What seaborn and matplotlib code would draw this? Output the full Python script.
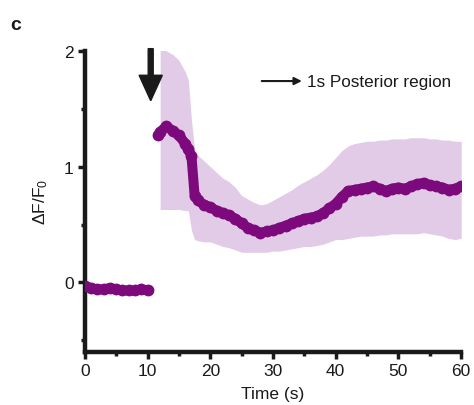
import matplotlib
matplotlib.use("Agg")
import matplotlib.pyplot as plt
import seaborn as sns
import numpy as np
import pandas as pd

# --- data ---
base_t = [0, 1, 2, 3, 4, 5, 6, 7, 8, 9, 10]
base_y = [-0.03, -0.05, -0.06, -0.06, -0.05, -0.06, -0.07, -0.07, -0.07, -0.06, -0.07]

resp_t = [11.7, 12, 13, 14, 15, 16, 16.5, 17, 17.5, 18, 19, 20, 21, 22, 23, 24, 25, 26, 27, 28,
          29, 30, 31, 32, 33, 34, 35, 36, 37, 38, 39, 40, 41, 42, 43, 44, 45, 46, 47, 48,
          49, 50, 51, 52, 53, 54, 55, 56, 57, 58, 59, 60]
resp_y = [1.27, 1.30, 1.35, 1.31, 1.27, 1.20, 1.15, 1.09, 0.75, 0.71, 0.67, 0.65, 0.62, 0.60, 0.58, 0.55, 0.51, 0.47, 0.45, 0.43,
          0.44, 0.45, 0.47, 0.49, 0.51, 0.53, 0.55, 0.56, 0.57, 0.60, 0.64, 0.68, 0.74, 0.79, 0.80, 0.81, 0.82, 0.83, 0.81, 0.79,
          0.81, 0.82, 0.81, 0.83, 0.85, 0.86, 0.84, 0.83, 0.82, 0.80, 0.81, 0.83]
resp_hi = [None, 2.02, 2.00, 1.97, 1.92, 1.82, 1.75, 1.40, 1.15, 1.10, 1.05, 1.00, 0.95, 0.90, 0.87, 0.82, 0.75, 0.72, 0.69, 0.67,
           0.68, 0.71, 0.74, 0.77, 0.80, 0.84, 0.87, 0.90, 0.93, 0.97, 1.02, 1.08, 1.14, 1.18, 1.20, 1.21, 1.22, 1.22, 1.23, 1.23,
           1.24, 1.24, 1.24, 1.25, 1.25, 1.25, 1.24, 1.24, 1.23, 1.23, 1.22, 1.22]
resp_lo = [None, 0.63, 0.63, 0.63, 0.63, 0.62, 0.62, 0.45, 0.37, 0.36, 0.35, 0.35, 0.33, 0.31, 0.30, 0.28, 0.26, 0.26, 0.26, 0.26,
           0.26, 0.27, 0.27, 0.28, 0.29, 0.30, 0.31, 0.31, 0.32, 0.33, 0.35, 0.37, 0.37, 0.38, 0.39, 0.40, 0.40, 0.40, 0.41, 0.41,
           0.42, 0.42, 0.42, 0.42, 0.42, 0.43, 0.42, 0.41, 0.40, 0.38, 0.37, 0.38]

x_ticks = [0, 10, 20, 30, 40, 50, 60]
y_ticks = [0, 1, 2]

LINE = "#7d0a7d"
BAND = "#e2cbe6"

sns.set_theme(style="white")
plt.rcParams['font.family'] = ['Liberation Sans', 'DejaVu Sans']
plt.rcParams['mathtext.fontset'] = 'custom'
plt.rcParams['mathtext.rm'] = 'Liberation Sans'
plt.rcParams['mathtext.it'] = 'Liberation Sans'
plt.rcParams['text.color'] = 'black'
plt.rcParams['axes.labelcolor'] = 'black'
plt.rcParams['xtick.color'] = 'black'
plt.rcParams['ytick.color'] = 'black'

fig = plt.figure(figsize=(4.74, 4.06), dpi=100)
ax = fig.add_axes([0.179, 0.131, 0.794, 0.741])

band = pd.DataFrame({"t": resp_t[1:], "hi": resp_hi[1:], "lo": resp_lo[1:]})
ax.fill_between(band["t"], band["lo"], band["hi"], color=BAND, linewidth=0, zorder=1)

df_base = pd.DataFrame({"t": base_t, "y": base_y})
df_resp = pd.DataFrame({"t": resp_t, "y": resp_y})
for d in (df_base, df_resp):
    sns.lineplot(data=d, x="t", y="y", ax=ax, color=LINE, linewidth=7.2,
                 marker="o", markersize=8.5, markeredgewidth=0, zorder=3)
for l in ax.get_lines():
    l.set_solid_capstyle("round")
    l.set_solid_joinstyle("round")

ax.set_xlim(0, 60)
ax.set_ylim(-0.6, 2.0)
ax.set_xticks(x_ticks)
ax.set_yticks(y_ticks)
ax.set_xticks([5, 15, 25, 35, 45, 55], minor=True)
ax.set_yticks([-0.5, 0.5, 1.5], minor=True)
ax.tick_params(axis="both", which="major", direction="out", length=5, width=2.5,
               labelsize=12.5, color="k", labelcolor="k", pad=3, bottom=True, left=True)
ax.tick_params(axis="both", which="minor", direction="out", length=3, width=2.5,
               color="k", bottom=True, left=True)

for s in ("top", "right"):
    ax.spines[s].set_visible(False)
for s in ("left", "bottom"):
    ax.spines[s].set_linewidth(3.2)
    ax.spines[s].set_color("k")

ax.set_xlabel("Time (s)", fontsize=12.5, labelpad=6, color="k")
ax.set_ylabel(r"$\Delta$F/F$_0$", fontsize=12.5, labelpad=10, color="k")

# stimulus arrow
ax.arrow(10.5, 2.02, 0, -0.45, width=0.8, head_width=3.7, head_length=0.22,
         length_includes_head=True, color="k", clip_on=False, zorder=5)

# legend-like annotation
ax.annotate("", xy=(34.6, 1.74), xytext=(28.2, 1.74),
            arrowprops=dict(arrowstyle="-|>", lw=1.5, color="k", mutation_scale=11,
                            shrinkA=0, shrinkB=0))
ax.text(35.4, 1.74, "1s Posterior region", fontsize=12.3, va="center", ha="left", color="k")

fig.text(10 / 474, 1 - 25 / 406, "c", fontsize=14, fontweight="bold", va="center", ha="left", color="k")

fig.savefig("out.png", dpi=100)
